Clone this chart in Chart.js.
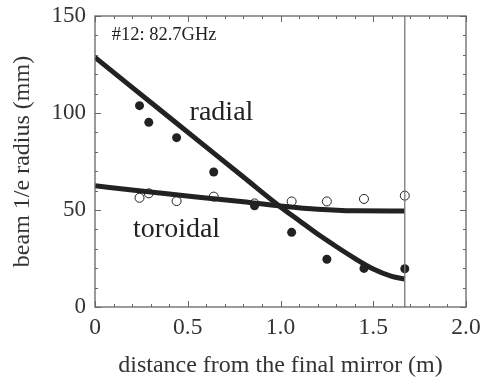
<!DOCTYPE html>
<html>
<head>
<meta charset="utf-8">
<script src="https://cdn.jsdelivr.net/npm/chart.js@4/dist/chart.umd.min.js"></script>
<style>
  html, body { margin: 0; padding: 0; background: #fff; }
  #wrap { width: 482px; height: 378px; }
</style>
</head>
<body>
<div id="wrap"><canvas id="beamChart"></canvas></div>
<script>
// measured points
const measX = [0.24, 0.29, 0.44, 0.64, 0.86, 1.06, 1.25, 1.45, 1.67];
const radialMeas = [103.8, 95.2, 87.3, 69.6, 52.2, 38.5, 24.6, 19.9, 19.7];
const toroidalMeas = [56.3, 58.6, 54.6, 56.9, 53.4, 54.4, 54.4, 55.7, 57.4];

// calculated curves
const radialCalcX = [0, 0.2, 0.4, 0.6, 0.8, 1.0, 1.1, 1.2, 1.3, 1.4, 1.5, 1.6, 1.67];
const radialCalc = [128.7, 113.2, 97.8, 82.4, 67.0, 51.6, 44.6, 37.6, 31.2, 25.1, 19.6, 15.8, 14.4];
const toroidalCalcX = [0, 0.2, 0.4, 0.6, 0.8, 1.0, 1.2, 1.4, 1.67];
const toroidalCalc = [62.5, 60.3, 58.2, 56.2, 54.2, 52.1, 50.4, 49.6, 49.5];

const mirrorX = 1.67;

const xTicks = [0, 0.5, 1.0, 1.5, 2.0];
const yTicks = [0, 50, 100, 150];

const labels = [
  { text: '#12: 82.7GHz', x: 0.09, y: 140, size: 18.5 },
  { text: 'radial', x: 0.51, y: 100, size: 28 },
  { text: 'toroidal', x: 0.205, y: 40, size: 28 }
];

const ink = '#222';
const serif = '"Liberation Serif", "Times New Roman", serif';

const pts = (xs, ys) => xs.map((x, i) => ({ x: x, y: ys[i] }));

const framePlugin = {
  id: 'frame',
  afterDraw(chart) {
    const { ctx, chartArea: a, scales: { x, y } } = chart;
    ctx.save();
    ctx.strokeStyle = '#666';
    ctx.lineWidth = 1.3;
    ctx.strokeRect(a.left, a.top, a.right - a.left, a.bottom - a.top);
    ctx.lineWidth = 1;
    ctx.beginPath();
    for (let i = 0; i <= 20; i++) {
      const px = Math.round(x.getPixelForValue(i / 10)) + 0.5;
      const len = i % 5 === 0 ? 6 : 3;
      ctx.moveTo(px, a.bottom); ctx.lineTo(px, a.bottom - len);
      ctx.moveTo(px, a.top); ctx.lineTo(px, a.top + len);
    }
    for (let v = 0; v <= 150; v += 10) {
      const py = Math.round(y.getPixelForValue(v)) + 0.5;
      const len = v % 50 === 0 ? 6 : 3;
      ctx.moveTo(a.left, py); ctx.lineTo(a.left + len, py);
      ctx.moveTo(a.right, py); ctx.lineTo(a.right - len, py);
    }
    ctx.stroke();
    ctx.restore();
  }
};

const textPlugin = {
  id: 'texts',
  afterDatasetsDraw(chart) {
    const { ctx, scales: { x, y } } = chart;
    ctx.save();
    ctx.fillStyle = ink;
    ctx.textBaseline = 'middle';
    ctx.textAlign = 'left';
    labels.forEach(l => {
      ctx.font = l.size + 'px ' + serif;
      ctx.fillText(l.text, x.getPixelForValue(l.x), y.getPixelForValue(l.y));
    });
    ctx.restore();
  }
};

new Chart(document.getElementById('beamChart'), {
  type: 'scatter',
  data: {
    datasets: [
      {
        label: 'mirror',
        type: 'line',
        data: [{ x: mirrorX, y: 0 }, { x: mirrorX, y: 150 }],
        borderColor: '#777',
        borderWidth: 1.3,
        pointRadius: 0
      },
      {
        label: 'radial calc',
        type: 'line',
        data: pts(radialCalcX, radialCalc),
        borderColor: ink,
        borderWidth: 5,
        pointRadius: 0,
        cubicInterpolationMode: 'monotone'
      },
      {
        label: 'toroidal calc',
        type: 'line',
        data: pts(toroidalCalcX, toroidalCalc),
        borderColor: ink,
        borderWidth: 5,
        pointRadius: 0,
        cubicInterpolationMode: 'monotone'
      },
      {
        label: 'radial',
        data: pts(measX, radialMeas),
        backgroundColor: ink,
        borderColor: ink,
        pointRadius: 4.5,
        borderWidth: 0
      },
      {
        label: 'toroidal',
        data: pts(measX, toroidalMeas),
        backgroundColor: '#fff',
        borderColor: ink,
        pointRadius: 4.5,
        borderWidth: 1
      }
    ]
  },
  options: {
    responsive: true,
    maintainAspectRatio: false,
    animation: false,
    layout: { padding: { top: 16, right: 16, left: 0, bottom: 0 } },
    plugins: {
      legend: { display: false },
      tooltip: { enabled: false }
    },
    scales: {
      x: {
        type: 'linear',
        min: 0,
        max: 2,
        afterBuildTicks: axis => { axis.ticks = xTicks.map(v => ({ value: v })); },
        afterFit: axis => {
          axis.height = 71;
          axis.paddingLeft = 0;
          axis.paddingRight = 0;
        },
        grid: { display: false, drawTicks: false },
        border: { display: false },
        ticks: {
          padding: 7,
          color: '#333',
          font: { family: serif, size: 23.5 },
          callback: v => v === 0 ? '0' : v.toFixed(1)
        },
        title: {
          display: true,
          text: 'distance from the final mirror (m)',
          color: '#333',
          font: { family: serif, size: 24, lineHeight: 1 },
          padding: { top: 0, bottom: 0 }
        }
      },
      y: {
        type: 'linear',
        min: 0,
        max: 150,
        afterBuildTicks: axis => { axis.ticks = yTicks.map(v => ({ value: v })); },
        afterFit: axis => {
          axis.width = 95;
          axis.paddingTop = 0;
          axis.paddingBottom = 0;
        },
        grid: { display: false, drawTicks: false },
        border: { display: false },
        ticks: {
          padding: 9,
          color: '#333',
          font: { family: serif, size: 23 }
        },
        title: {
          display: true,
          text: 'beam 1/e radius (mm)',
          color: '#333',
          font: { family: serif, size: 24 },
          padding: { top: 8, bottom: 0 }
        }
      }
    }
  },
  plugins: [framePlugin, textPlugin]
});
</script>
</body>
</html>
